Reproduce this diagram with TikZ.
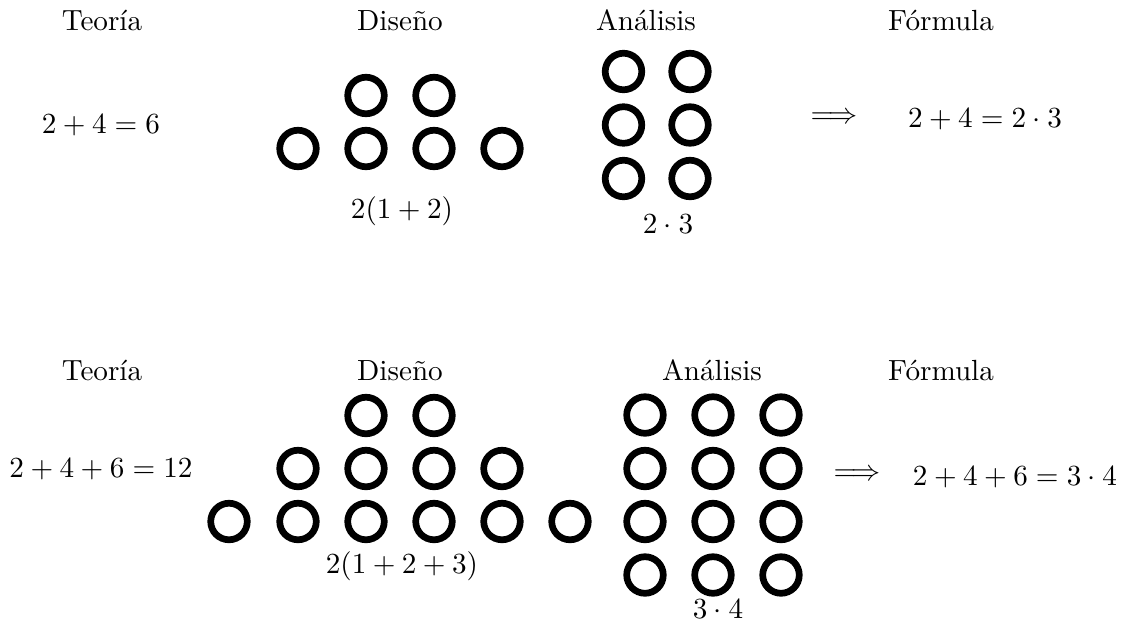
\documentclass[tikz,border=0pt]{standalone}
\newcommand{\txs}[1]{\scalebox{1.045}{#1}}
\begin{document}
\begin{tikzpicture}[x=0.3584pt,y=-0.3584pt,
  ring/.style={circle,draw,line width=2.4pt,minimum size=13.1pt,inner sep=0pt},
  lbl/.style={anchor=base,inner sep=0pt}]
\useasboundingbox (0,0) rectangle (1123,637);
% headings
\node[lbl] (t1) at (102,30) {\txs{Teoría}};
\node[lbl] (d1) at (400,30) {\txs{Diseño}};
\node[lbl] (a1) at (646,30) {\txs{Análisis}};
\node[lbl] (f1) at (941,30) {\txs{Fórmula}};
\node[lbl] (t2) at (102,380) {\txs{Teoría}};
\node[lbl] (d2) at (400,380) {\txs{Diseño}};
\node[lbl] (a2) at (712,380) {\txs{Análisis}};
\node[lbl] (f2) at (941,380) {\txs{Fórmula}};
% top example
\node[lbl] (e1) at (101,133) {\txs{$2+4=6$}};
\foreach \x in {366,434} \node[ring] (dt-\x) at (\x,95.5) {};
\foreach \x in {298,366,434,502} \node[ring] (db-\x) at (\x,148.5) {};
\node[lbl] (s1) at (402,218) {\txs{$2(1+2)$}};
\foreach \x/\i in {623.5/1,690/2} \foreach \y/\j in {71.5/1,125/2,178.5/3}
  \node[ring] (an-\i-\j) at (\x,\y) {};
\node[lbl] (p1) at (668,233) {\txs{$2\cdot 3$}};
\node[lbl] (ar1) at (834,123) {\txs{$\Longrightarrow$}};
\node[lbl] (r1) at (985,127) {\txs{$2+4=2\cdot 3$}};
% bottom example
\node[lbl] (e2) at (101,477) {\txs{$2+4+6=12$}};
\foreach \x in {366,434} \node[ring] (Dt-\x) at (\x,415.5) {};
\foreach \x in {298,366,434,502} \node[ring] (Dm-\x) at (\x,468.5) {};
\foreach \x in {229,298,366,434,502,570} \node[ring] (Db-\x) at (\x,521.5) {};
\node[lbl] (s2) at (402,573) {\txs{$2(1+2+3)$}};
\foreach \x/\i in {645/1,713/2,781/3} \foreach \y/\j in {415/1,468.5/2,521.5/3,575/4}
  \node[ring] (An-\i-\j) at (\x,\y) {};
\node[lbl] (p2) at (718,618) {\txs{$3\cdot 4$}};
\node[lbl] (ar2) at (857,480) {\txs{$\Longrightarrow$}};
\node[lbl] (r2) at (1015,485) {\txs{$2+4+6=3\cdot 4$}};
\end{tikzpicture}
\end{document}
